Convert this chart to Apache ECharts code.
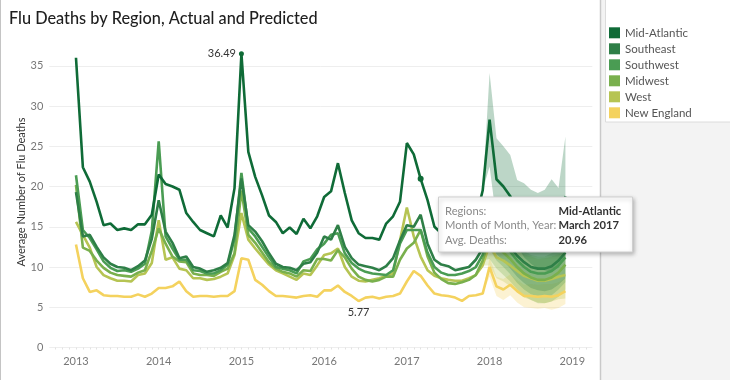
<!DOCTYPE html>
<html><head><meta charset="utf-8">
<script src="https://cdn.jsdelivr.net/npm/echarts@6/dist/echarts.min.js"></script>
<style>html,body{margin:0;padding:0;background:#fff}#c{width:730px;height:380px}</style>
</head><body><div id="c"></div>
<script>
const FONT = 'Lato, "Open Sans", sans-serif';
const regions = ['Mid-Atlantic','Southeast','Southwest','Midwest','West','New England'];
const colors = ['#0f6b37','#2e7f47','#4a9c53','#79b04d','#b6c453','#f4d25e'];
const yearLabels = ['2013','2014','2015','2016','2017','2018','2019'];
const yTicks = [0,5,10,15,20,25,30,35];
const yAxisTitle = 'Average Number of Flu Deaths';

// Monthly averages, Jan 2013 .. Dec 2018 (2018 = predicted)
const midAtlantic = [36.0,22.4,20.6,18.1,15.2,15.4,14.6,14.8,14.6,15.3,15.3,16.5,
  21.5,20.3,20.0,19.6,16.7,15.6,14.6,14.2,13.8,16.4,14.9,19.8,
  36.49,24.3,21.2,18.9,16.4,15.6,14.2,14.9,14.1,16.0,14.8,16.3,
  18.7,19.4,22.9,19.2,15.8,14.2,13.6,13.6,13.4,15.4,16.3,18.1,
  25.4,24.0,20.96,18.3,15.0,14.2,13.6,13.4,13.8,14.6,16.0,19.5,
  28.3,20.9,20.0,18.8,17.0,15.6,14.6,14.0,14.0,14.6,15.8,18.8];
const southeast = [19.3,13.8,14.0,12.5,11.2,10.4,10.0,9.9,9.6,10.1,10.8,13.5,
  18.3,14.4,13.0,11.1,11.3,10.0,9.8,9.4,9.6,9.9,10.5,14.0,
  21.0,15.2,14.4,13.2,11.7,10.4,10.0,9.9,9.6,10.4,10.6,11.8,
  13.8,13.4,15.2,12.5,11.1,10.3,10.1,9.9,9.6,10.1,11.1,13.3,
  15.2,15.0,16.5,12.9,10.9,10.3,10.1,9.6,9.8,10.0,10.9,12.3,
  15.8,14.2,13.4,12.4,11.4,10.6,10.0,9.8,9.8,10.1,10.8,11.8];
const southwest = [21.4,14.6,13.6,12.2,10.7,9.9,9.5,9.6,9.4,9.8,10.4,14.5,
  25.6,13.8,12.3,10.9,10.9,9.6,9.5,9.2,9.2,9.6,10.3,13.5,
  21.7,14.8,13.8,12.5,11.2,10.0,9.8,9.6,9.2,10.7,11.0,12.2,
  12.9,14.0,14.2,11.7,10.5,9.8,9.4,9.2,9.1,9.0,9.6,12.9,
  14.6,14.6,14.6,11.8,10.0,9.3,9.0,9.0,9.2,9.5,10.0,11.5,
  15.0,13.6,12.8,11.9,10.8,10.0,9.4,9.2,9.2,9.5,10.2,11.2];
const midwest = [20.2,12.4,12.0,10.8,9.9,9.3,9.0,8.9,8.8,9.3,9.6,12.0,
  14.8,12.9,11.3,10.7,10.6,9.2,9.0,9.0,8.9,9.4,9.8,11.7,
  19.5,14.0,13.0,11.8,10.6,9.8,9.4,9.2,8.8,9.6,9.5,11.0,
  11.0,10.8,12.1,11.2,9.8,8.8,8.4,8.2,8.4,8.8,8.8,10.9,
  12.3,13.0,14.6,11.3,9.3,8.5,8.0,7.9,8.1,8.4,9.0,10.8,
  13.8,12.6,11.8,11.0,10.0,9.2,8.7,8.4,8.4,8.7,9.3,10.3];
const west = [15.6,14.0,12.4,10.0,9.0,8.6,8.3,8.3,8.2,9.0,9.2,10.5,
  15.8,10.9,11.2,9.8,9.6,8.6,8.6,8.4,8.5,8.8,9.2,11.5,
  16.7,13.4,12.3,11.3,10.3,9.6,9.2,8.8,8.4,9.2,9.0,10.2,
  11.5,11.7,12.3,10.0,8.8,8.3,8.2,8.4,8.6,8.9,9.2,13.3,
  17.4,13.8,11.3,9.6,8.9,8.6,8.4,8.3,8.3,8.6,9.0,10.2,
  12.8,11.2,10.8,10.2,9.5,8.9,8.6,8.3,8.3,8.5,8.8,9.0];
const newEngland = [12.8,8.6,6.9,7.1,6.5,6.4,6.4,6.3,6.3,6.6,6.3,6.7,
  7.4,7.4,7.6,8.2,7.0,6.3,6.4,6.4,6.3,6.4,6.4,7.0,
  11.1,10.9,8.4,7.8,7.0,6.4,6.4,6.3,6.2,6.4,6.5,6.3,
  7.1,7.1,7.7,6.9,6.4,5.77,6.2,6.3,6.1,6.3,6.4,6.7,
  8.2,9.5,8.9,7.7,6.7,6.5,6.4,6.2,5.8,6.4,6.5,6.7,
  10.0,7.6,7.2,7.8,7.0,6.4,6.4,6.3,6.4,6.3,6.5,7.0];

// Forecast prediction bands, Dec 2017 .. Dec 2018
const bandStart = 59;
const maUpper = [19.5,34.1,26.0,25.0,23.9,20.8,20.4,19.6,19.2,19.6,20.9,19.8,26.2];
const maLower = [19.5,22.5,15.8,15.0,13.7,12.6,11.2,10.4,9.8,9.6,9.4,9.9,11.3];
const seUpper = [12.3,18.5,16.8,16.0,15.0,14.0,13.2,12.6,12.5,12.6,13.0,13.8,15.0];
const seLower = [12.3,13.1,11.6,10.8,9.8,8.8,8.0,7.4,7.1,7.0,7.2,7.8,8.6];
const swUpper = [11.5,17.8,16.4,15.6,14.7,13.6,12.8,12.2,12.0,12.1,12.5,13.2,14.3];
const swLower = [11.5,12.2,10.8,10.0,9.1,8.0,7.2,6.6,6.4,6.3,6.5,7.2,8.1];
const mwUpper = [10.8,16.6,15.4,14.6,13.8,12.8,12.0,11.5,11.3,11.3,11.7,12.3,13.4];
const mwLower = [10.8,11.0,9.8,9.0,8.2,7.2,6.4,5.9,5.5,5.5,5.7,6.3,7.2];
const wUpper = [10.2,15.4,13.8,13.4,12.8,12.1,11.6,11.3,11.0,11.1,11.3,11.6,11.9];
const wLower = [10.2,10.2,8.6,8.2,7.6,6.9,6.2,5.9,5.6,5.5,5.7,6.0,6.1];
const neUpper = [6.7,11.2,8.8,8.5,9.1,8.4,7.8,7.9,7.8,7.9,7.9,8.1,8.6];
const neLower = [6.7,8.8,6.4,5.9,6.5,5.6,5.0,4.9,4.8,4.9,4.7,4.9,5.4];

const values = [midAtlantic, southeast, southwest, midwest, west, newEngland];
const uppers = [maUpper, seUpper, swUpper, mwUpper, wUpper, neUpper];
const lowers = [maLower, seLower, swLower, mwLower, wLower, neLower];

// annotated points: [region index, month index, label position, show label, dot size]
const annotations = [[0, 24, 'left', true, 5], [0, 50, null, false, 6], [5, 41, 'bottom', true, 0.1]];

// tooltip rows
const tipLabels = ['Regions:', 'Month of Month, Year:', 'Avg. Deaths:'];
const tipValues = ['Mid-Atlantic', 'March 2017', '20.96'];

const yearTicks = yearLabels.map((_, i) => i * 12);
const monthTicks = [];
for (let m = -3; m <= 74; m++) monthTicks.push(m);

const series = [];
// prediction bands drawn as polygons through the chart's own coordinate system
for (let i = regions.length - 1; i >= 0; i--) {
  const lo = lowers[i], up = uppers[i];
  series.push({
    type: 'custom', silent: true, z: 1, clip: false,
    data: [[bandStart, lo[0]]],
    renderItem: function (params, api) {
      const pts = [];
      for (let k = 0; k < up.length; k++) pts.push(api.coord([bandStart + k, up[k]]));
      for (let k = lo.length - 1; k >= 0; k--) pts.push(api.coord([bandStart + k, lo[k]]));
      return { type: 'polygon', shape: { points: pts },
        style: { fill: colors[i], opacity: 0.28 } };
    }
  });
}
// lines (New England at the bottom, Mid-Atlantic on top)
for (let i = regions.length - 1; i >= 0; i--) {
  const marks = annotations.filter(a => a[0] === i);
  series.push({
    name: regions[i], type: 'line', z: 3 + (regions.length - i),
    showSymbol: true, showAllSymbol: true, symbol: 'circle',
    symbolSize: (val, p) => { const a = marks.find(m => m[1] === p.dataIndex); return a ? a[4] : 0; },
    lineStyle: { width: 2.6, color: colors[i] },
    itemStyle: { color: colors[i] },
    emphasis: { disabled: true },
    data: values[i].map((v, k) => {
      const a = marks.find(m => m[1] === k);
      if (a && a[3]) {
        return { value: [k, v], label: { show: true, position: a[2], distance: a[2] === 'left' ? 3 : 6,
          formatter: String(v), color: '#333', fontSize: 11, fontFamily: FONT } };
      }
      return [k, v];
    })
  });
}

const TZ = 100;
const graphics = [
  { type: 'rect', z: -10, shape: { x: 600, y: 0, width: 130, height: 380 }, style: { fill: '#f3f3f3' } },
  { type: 'rect', z: -9, shape: { x: 605.5, y: -1, width: 130, height: 123 }, style: { fill: '#ffffff', stroke: '#dcdcdc', lineWidth: 1 } },
  { type: 'line', z: -8, shape: { x1: 600.5, y1: 0, x2: 600.5, y2: 380 }, style: { stroke: '#c9c9c9', lineWidth: 1.5 } },
  { type: 'line', z: -8, shape: { x1: 0.5, y1: 0, x2: 0.5, y2: 380 }, style: { stroke: '#c4c4c4', lineWidth: 1 } },
  { type: 'text', z: 5, x: 21, y: 192, rotation: Math.PI / 2,
    style: { text: yAxisTitle, fill: '#333', font: '11px ' + FONT, textAlign: 'center', textVerticalAlign: 'middle' } },
  { type: 'rect', z: TZ, shape: { x: 438.5, y: 197, width: 194, height: 55 },
    style: { fill: '#fff', stroke: '#cfcfcf', lineWidth: 1, shadowBlur: 4, shadowOffsetX: 1, shadowOffsetY: 2, shadowColor: 'rgba(0,0,0,0.25)' } }
];
const rowY = [211.5, 225.8, 240.6];
tipLabels.forEach((t, r) => graphics.push({ type: 'text', z: TZ + 1, x: 445, y: rowY[r],
  style: { text: t, fill: '#8a8a8a', font: '11.2px ' + FONT, textVerticalAlign: 'middle' } }));
tipValues.forEach((t, r) => graphics.push({ type: 'text', z: TZ + 1, x: 558.5, y: rowY[r],
  style: { text: t, fill: '#333', font: 'bold 11.2px ' + FONT, textVerticalAlign: 'middle' } }));

const chart = echarts.init(document.getElementById('c'), null, { renderer: 'canvas' });
chart.setOption({
  animation: false,
  textStyle: { fontFamily: FONT },
  title: {
    text: 'Flu Deaths by Region, Actual and Predicted', left: 4, top: 6,
    textStyle: { fontSize: 16.3, fontWeight: 500, color: '#1e1e1e', fontFamily: FONT }
  },
  legend: {
    data: regions, orient: 'vertical', left: 609, top: 26.8, padding: 0,
    itemWidth: 11, itemHeight: 11, itemGap: 4, icon: 'rect',
    textStyle: { fontSize: 11.5, color: '#555', fontFamily: FONT },
    selectedMode: false
  },
  grid: { left: 49.3, right: 137.7, top: 37.6, bottom: 32.5 },
  xAxis: {
    type: 'value', min: -3.87, max: 74.9,
    splitLine: { show: false }, axisLine: { show: false },
    axisTick: { show: true, customValues: monthTicks, length: 2, lineStyle: { color: '#e2e2e2' } },
    axisLabel: { customValues: yearTicks, formatter: v => yearLabels[Math.round(v / 12)],
      color: '#777', fontSize: 11, margin: 8, fontFamily: FONT }
  },
  yAxis: {
    type: 'value', min: 0, max: 38.5,
    axisLine: { show: false },
    axisTick: { show: false, customValues: yTicks },
    axisLabel: { customValues: yTicks, color: '#777', fontSize: 11, margin: 6, fontFamily: FONT },
    splitLine: { lineStyle: { color: '#eeeeee' } }
  },
  graphic: graphics,
  series: series
});
</script></body></html>
